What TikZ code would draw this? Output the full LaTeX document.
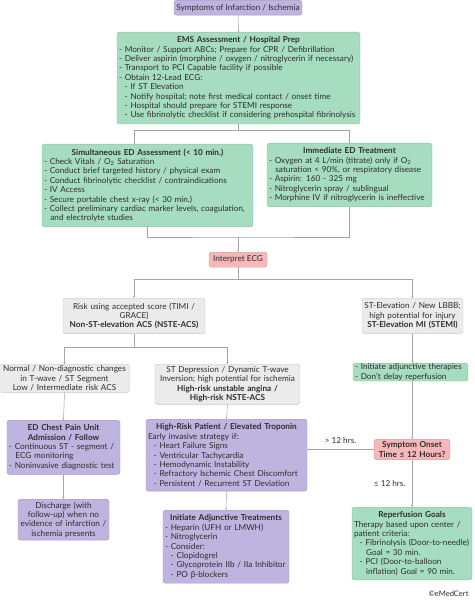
\documentclass[tikz,border=0pt]{standalone}
\usepackage{fontspec}
\setmainfont{Lato}
\usetikzlibrary{positioning}
\usetikzlibrary{arrows.meta}
\definecolor{txt}{RGB}{45,45,45}
\definecolor{linegray}{RGB}{165,165,165}
\definecolor{lavender}{RGB}{190,180,223}
\definecolor{mint}{RGB}{166,221,193}
\definecolor{rose}{RGB}{245,183,183}
\definecolor{lightgray}{RGB}{235,235,235}
\newlength{\forkdist}
\setlength{\forkdist}{6pt}
\newcommand{\ind}{\hspace*{0.7em}}
\newcommand{\hang}{\hspace*{0.45em}}
\newcommand{\boxtitle}[1]{\makebox[\linewidth]{\textbf{#1}}}
\hyphenpenalty=10000
\exhyphenpenalty=10000

\tikzset{
  box/.style={rectangle, rounded corners=2.5pt, inner xsep=2pt, inner ysep=4.5pt,
    anchor=north, text=txt, font=\fontsize{8.2}{9.4}\selectfont},
  purplebox/.style={box, draw=lavender!85!black, fill=lavender},
  greenbox/.style={box, draw=mint!85!black, fill=mint},
  pinkbox/.style={box, draw=rose!85!black, fill=rose},
  graybox/.style={box, draw=black!22, fill=lightgray},
  plain/.style={draw=linegray, line width=0.5pt},
  link/.style={plain, -{Stealth[length=2pt,width=2pt]}},
  branchlabel/.style={text=txt, font=\fontsize{8.2}{9.4}\selectfont},
}

\begin{document}
\begin{tikzpicture}[x=1pt, y=-1pt]
\useasboundingbox (0,0) rectangle (474,601);

% top of the chart
\node[purplebox, minimum width=128pt, minimum height=15pt, inner ysep=1pt](symptoms) at (238,0){Symptoms of Infarction / Ischemia};
\node[greenbox, text width=239pt, align=left](ems) at (238.5,32){\boxtitle{EMS Assessment / Hospital Prep}\\
- Monitor / Support ABCs; Prepare for CPR / Defibrillation\\
- Deliver aspirin (morphine / oxygen / nitroglycerin if necessary)\\
- Transport to PCI Capable facility if possible\\
- Obtain 12-Lead ECG:\\
\ind- If ST Elevation\\
\ind- Notify hospital; note first medical contact / onset time\\
\ind- Hospital should prepare for STEMI response\\
\ind- Use fibrinolytic checklist if considering prehospital fibrinolysis};
\draw[link] (symptoms.south) -- (ems.north);

% emergency department
\node[greenbox, text width=207pt, align=left](edassess) at (147.5,144){\boxtitle{Simultaneous ED Assessment (< 10 min.)}\\
- Check Vitals / O\textsubscript{2} Saturation\\
- Conduct brief targeted history / physical exam\\
- Conduct fibrinolytic checklist / contraindications\\
- IV Access\\
- Secure portable chest x-ray (< 30 min.)\\
- Collect preliminary cardiac marker levels, coagulation,\\
\hang\ and electrolyte studies};
\node[greenbox, text width=161pt, align=left](edtreat) at (349.5,143){\boxtitle{Immediate ED Treatment}\\
- Oxygen at 4 L/min (titrate) only if O\textsubscript{2}\\
\hang\ saturation < 90\%, or respiratory disease\\
- Aspirin: 160 - 325 mg\\
- Nitroglycerin spray / sublingual\\
- Morphine IV if nitroglycerin is ineffective};
% y axis points down, so the fork goes down by -\forkdist
\draw[plain] (ems.south) -- ++(0,-\forkdist) -| ([xshift=-13pt]edassess.north);
\draw[plain] (ems.south) -- ++(0,-\forkdist) -| (edtreat.north);

\node[pinkbox, minimum width=58pt, minimum height=15pt, inner ysep=1pt](ecg) at (238,252){Interpret ECG};
\coordinate (join) at ([yshift=15pt]ecg.north);
\draw[plain] (edassess.south) |- (join) -| (edtreat.south);
\draw[link] (join) -- (ecg.north);

% ecg findings
\node[graybox, text width=138pt, align=center](risk) at (134,298){Risk using accepted score (TIMI /\\
GRACE)\\
\textbf{Non-ST-elevation ACS (NSTE-ACS)}};
\node[graybox, text width=97pt, align=center](stemi) at (412.5,298){ST-Elevation / New LBBB;\\
high potential for injury\\
\textbf{ST-Elevation MI (STEMI)}};
\draw[link] (ecg.south) -- ++(0,12) -| (risk.north);
\draw[link] (ecg.south) -- ++(0,12) -| (stemi.north);

\node[graybox, text width=126pt, align=center, inner ysep=1.5pt](lowrisk) at (64.5,364){Normal / Non-diagnostic changes\\
in T-wave / ST Segment\\
Low / Intermediate risk ACS};
\node[graybox, text width=141pt, align=center, inner ysep=2.2pt](stdep) at (227.5,364){ST Depression / Dynamic T-wave\\
Inversion; high potential for ischemia\\
\textbf{High-risk unstable angina /}\\
\textbf{High-risk NSTE-ACS}};
\draw[link] (risk.south) -- ++(0,13) -| (lowrisk.north);
\draw[link] (risk.south) -- ++(0,13) -| (stdep.north);

\node[greenbox, text width=111pt, align=left, inner ysep=0.5pt](adjstemi) at (410.5,363){- Initiate adjunctive therapies\\
- Don't delay reperfusion};
\draw[link] (stemi.south) -- (stemi.south |- adjstemi.north);

% low risk branch
\node[purplebox, text width=109pt, align=left](chestpain) at (63.5,420){\boxtitle{ED Chest Pain Unit}\\
\boxtitle{Admission / Follow}\\
- Continuous ST - segment /\\
\hang\ ECG monitoring\\
- Noninvasive diagnostic test};
\node[purplebox, text width=87pt, align=center, inner ysep=2.5pt](discharge) at (63.5,499){Discharge (with\\
follow-up) when no\\
evidence of infarction /\\
ischemia presents};
\draw[link] (lowrisk.south) -- (chestpain.north);
\draw[link] (chestpain.south) -- (discharge.north);

% high risk branch
\node[purplebox, text width=157pt, align=left](troponin) at (226.5,419){\boxtitle{High-Risk Patient / Elevated Troponin}\\
Early invasive strategy if:\\
\ind- Heart Failure Signs\\
\ind- Ventricular Tachycardia\\
\ind- Hemodynamic Instability\\
\ind- Refractory Ischemic Chest Discomfort\\
\ind- Persistent / Recurrent ST Deviation};
\node[purplebox, text width=122pt, align=left](adjtreat) at (226,510){\boxtitle{Initiate Adjunctive Treatments}\\
- Heparin (UFH or LMWH)\\
- Nitroglycerin\\
- Consider:\\
\ind- Clopidogrel\\
\ind- Glycoprotein IIb / IIa Inhibitor\\
\ind- PO β-blockers};
\draw[link] (stdep.south) -- (troponin.north);
\draw[link] (troponin.south) -- (adjtreat.north);

% stemi branch
\node[pinkbox, text width=72pt, align=center, inner ysep=2.5pt](onset) at (412,439){\textbf{Symptom Onset}\\
\textbf{Time ≤ 12 Hours?}};
\node[greenbox, text width=116pt, align=left](reperf) at (412,507){\boxtitle{Reperfusion Goals}\\
Therapy based upon center /\\
patient criteria:\\
\ind- Fibrinolysis (Door-to-needle)\\
\ind\hang\ Goal = 30 min.\\
\ind- PCI (Door-to-balloon\\
\ind\hang\ inflation) Goal = 90 min.};
\draw[link] (onset.north |- adjstemi.south) -- (onset.north);
\draw[link] (onset.west) -- (onset.west -| troponin.east) node[branchlabel, midway, above=2pt]{> 12 hrs.};
\draw[link] (onset.south) -- (reperf.north) node[branchlabel, midway, left=3pt]{≤ 12 hrs.};

\node[branchlabel, anchor=south east, font=\fontsize{7.6}{8}\selectfont](copyright) at (472,600){©eMedCert};

\end{tikzpicture}
\end{document}
